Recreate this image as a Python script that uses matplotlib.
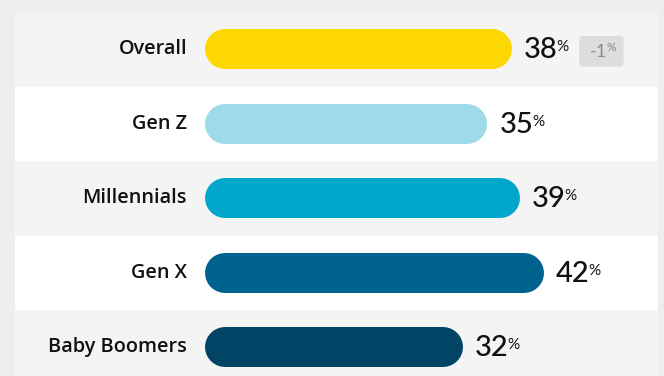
import matplotlib
matplotlib.use("Agg")
import matplotlib.pyplot as plt

# Share of each generation (percent)
categories = ["Overall", "Gen Z", "Millennials", "Gen X", "Baby Boomers"]
values = [38, 35, 39, 42, 32]
bar_colors = ["#fdd800", "#9ddbea", "#00a6cb", "#00628f", "#024466"]
change_label = "-1"          # change vs. previous wave, shown for Overall only

LABEL_FONT = "Open Sans"
NUM_FONT = "Lato"
plt.rcParams["mathtext.fontset"] = "custom"
plt.rcParams["mathtext.rm"] = NUM_FONT
plt.rcParams["mathtext.it"] = NUM_FONT

W, H, DPI = 664, 376, 100
ROW_PX = 74.5
PX_PER_PCT = 8.07
BAR_PX = 40

fig = plt.figure(figsize=(W / DPI, H / DPI), dpi=DPI, facecolor="#eeeeee")

# panel area in pixels
left_px, right_px, top_px = 15, 658, 12
zero_px = 205
ax = fig.add_axes([left_px / W, 0, (right_px - left_px) / W, (H - top_px) / H])
ax.set_facecolor("none")
ax.set_xlim(-(zero_px - left_px) / PX_PER_PCT, (right_px - zero_px) / PX_PER_PCT)
ax.set_ylim(-0.5 + (H - top_px) / ROW_PX, -0.5)
ax.axis("off")

# alternating row bands
for i in range(len(categories)):
    ax.axhspan(i - 0.5, i + 0.5, color="#f4f4f4" if i % 2 == 0 else "#ffffff",
               zorder=0, lw=0)

# pill-shaped bars: a thick line with round caps, inset by the cap radius
cap = (BAR_PX / 2) / PX_PER_PCT
lw_pt = BAR_PX * 72 / DPI
for i, (v, c) in enumerate(zip(values, bar_colors)):
    ax.plot([cap, v - cap], [i, i], color=c, lw=lw_pt,
            solid_capstyle="round", zorder=2)

for i, (cat, v) in enumerate(zip(categories, values)):
    ax.annotate(cat, xy=(0, i), xytext=(-18, 0), textcoords="offset pixels",
                ha="right", va="center", fontsize=14.3, fontweight="semibold",
                family=LABEL_FONT, color="#111111")
    num = ax.annotate(f"{v}", xy=(v, i), xytext=(12, -1), textcoords="offset pixels",
                      ha="left", va="center", fontsize=21, family=NUM_FONT,
                      fontweight="medium", color="#111111")
    ax.annotate("%", xy=(1, 1), xycoords=num, xytext=(-1, -3),
                textcoords="offset pixels", ha="left", va="top",
                fontsize=11, family=NUM_FONT, color="#111111")
    if i == 0:
        ax.annotate(" " + change_label + r"$^{\%}$ ", xy=(1, 0.5), xycoords=num,
                    xytext=(44, -1), textcoords="offset pixels",
                    ha="center", va="center", fontsize=12.5, family=NUM_FONT,
                    color="#888888",
                    bbox=dict(boxstyle="round,pad=0.32,rounding_size=0.2",
                              fc="#dddddd", ec="none"))

fig.savefig("out.png", dpi=DPI, facecolor=fig.get_facecolor())
